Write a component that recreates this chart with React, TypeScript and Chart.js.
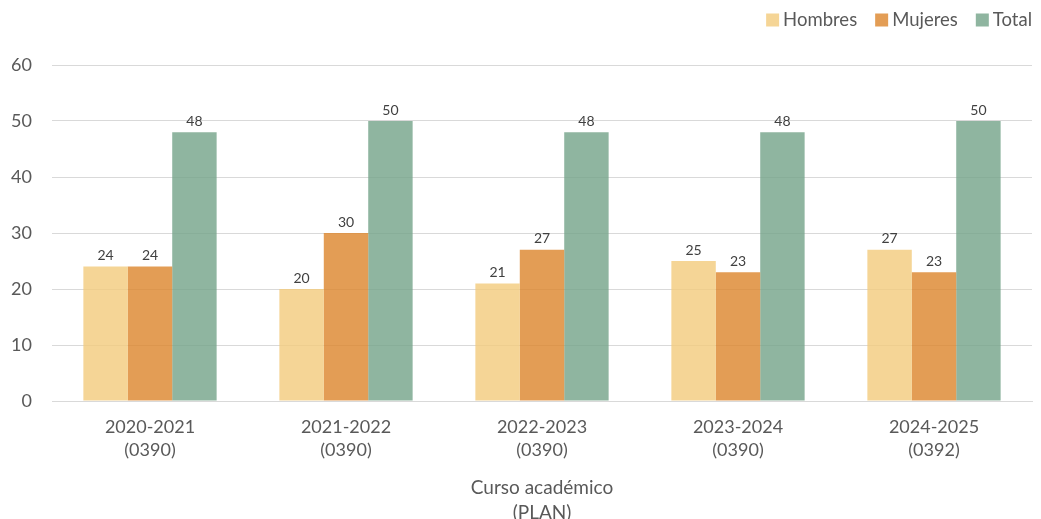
import React, { useEffect, useRef } from "react";
import { Chart, registerables } from "chart.js";

Chart.register(...registerables);

const categories: string[][] = [
  ["2020-2021", "(0390)"],
  ["2021-2022", "(0390)"],
  ["2022-2023", "(0390)"],
  ["2023-2024", "(0390)"],
  ["2024-2025", "(0392)"],
];
const hombres = [24, 20, 21, 25, 27];
const mujeres = [24, 30, 27, 23, 23];
const total = [48, 50, 48, 48, 50];
const yTicks = [0, 10, 20, 30, 40, 50, 60];

const FONT = "Lato, 'Open Sans', sans-serif";
const TEXT = "#595959";

const labelPlugin = {
  id: "barLabels",
  afterDatasetsDraw(chart: any) {
    const ctx = chart.ctx;
    ctx.save();
    ctx.font = `14px ${FONT}`;
    ctx.fillStyle = "#404040";
    ctx.textAlign = "center";
    ctx.textBaseline = "bottom";
    chart.data.datasets.forEach((ds: any, i: number) => {
      const meta = chart.getDatasetMeta(i);
      meta.data.forEach((bar: any, j: number) => {
        ctx.fillText(String(ds.data[j]), bar.x, bar.y - 4);
      });
    });
    ctx.restore();
  },
};

const legendPlugin = {
  id: "customLegend",
  afterDraw(chart: any) {
    const ctx = chart.ctx;
    ctx.save();
    ctx.font = `18.5px ${FONT}`;
    ctx.textBaseline = "middle";
    ctx.textAlign = "left";
    const cy = 20;
    let x = 1032;
    const items = [...chart.data.datasets].reverse();
    items.forEach((ds: any) => {
      const w = ctx.measureText(ds.label).width;
      const tx = x - w;
      ctx.fillStyle = TEXT;
      ctx.fillText(ds.label, tx, cy);
      const bx = tx - 4 - 13;
      ctx.fillStyle = ds.backgroundColor;
      ctx.fillRect(bx, cy - 6.5, 13, 13);
      x = bx - 18;
    });
    ctx.restore();
  },
};

export default function App() {
  const ref = useRef<HTMLCanvasElement>(null);
  useEffect(() => {
    if (!ref.current) return;
    const chart = new Chart(ref.current, {
      type: "bar",
      data: {
        labels: categories,
        datasets: [
          { label: "Hombres", data: hombres, backgroundColor: "rgba(242, 203, 124, 0.8)" },
          { label: "Mujeres", data: mujeres, backgroundColor: "rgba(220, 133, 42, 0.8)" },
          { label: "Total", data: total, backgroundColor: "rgba(115, 163, 136, 0.8)" },
        ],
      },
      options: {
        animation: false,
        responsive: true,
        maintainAspectRatio: false,
        layout: { padding: { left: 0, right: 9, top: 65, bottom: 0 } },
        datasets: { bar: { categoryPercentage: 0.68, barPercentage: 1 } },
        plugins: {
          legend: { display: false },
          tooltip: { enabled: false },
        },
        scales: {
          x: {
            afterFit: (axis: any) => {
              axis.height = 124;
            },
            grid: { display: false },
            border: { display: true, color: "#d9d9d9", width: 1 },
            ticks: { color: TEXT, font: { family: FONT, size: 18, lineHeight: 1.28 }, padding: 7, maxRotation: 0 },
            title: {
              display: true,
              text: ["Curso académico", "(PLAN)"],
              color: TEXT,
              font: { family: FONT, size: 19, lineHeight: 1.3 },
              padding: { top: 0, bottom: 0 },
            },
          },
          y: {
            min: 0,
            max: 60,
            afterFit: (axis: any) => {
              axis.width = 52;
            },
            afterBuildTicks: (axis: any) => {
              axis.ticks = yTicks.map((v) => ({ value: v }));
            },
            grid: { color: "#d9d9d9", drawTicks: false },
            border: { display: false },
            ticks: { color: TEXT, font: { family: FONT, size: 18 }, padding: 20 },
          },
        },
      },
      plugins: [labelPlugin, legendPlugin],
    });
    return () => chart.destroy();
  }, []);
  return (
    <div style={{ position: "fixed", left: 0, top: 0, width: 1041, height: 519, overflow: "hidden", background: "#fff" }}>
      <div style={{ position: "relative", width: 1041, height: 525 }}>
        <canvas ref={ref} />
      </div>
    </div>
  );
}
